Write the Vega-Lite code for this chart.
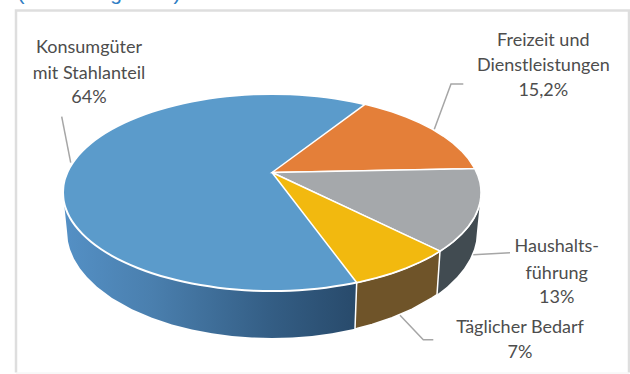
{
  "$schema": "https://vega.github.io/schema/vega-lite/v6.json",
  "width": 630,
  "height": 374,
  "padding": 0,
  "autosize": {"type": "none"},
  "background": "#ffffff",
  "view": {"stroke": null},
  "datasets": {
    "frame": [
      {"u": -256, "v": -200, "seq": 1},
      {"u": -256, "v": 162, "seq": 2},
      {"u": 357, "v": 162, "seq": 3},
      {"u": 357, "v": -200, "seq": 4}
    ],
    "frameBase": [
      {"u": -256, "v": -200.5, "seq": 1},
      {"u": 357, "v": -200.5, "seq": 2}
    ],
    "wallBlue": [
      {"u": -208, "v": -30, "v2": -30},
      {"u": -205, "v": -25, "v2": -58.5},
      {"u": -204, "v": -20, "v2": -69.06},
      {"u": -202, "v": -20, "v2": -76.73},
      {"u": -198, "v": -20, "v2": -86.22},
      {"u": -192, "v": -20, "v2": -95.99},
      {"u": -185, "v": -20, "v2": -104.6},
      {"u": -175, "v": -20, "v2": -114.24},
      {"u": -160, "v": -20, "v2": -125.4},
      {"u": -140, "v": -20, "v2": -136.66},
      {"u": -120, "v": -20, "v2": -145.26},
      {"u": -100, "v": -20, "v2": -151.91},
      {"u": -80, "v": -20, "v2": -157.02},
      {"u": -60, "v": -20, "v2": -160.81},
      {"u": -40, "v": -20, "v2": -163.45},
      {"u": -20, "v": -20, "v2": -164.99},
      {"u": 0, "v": -20, "v2": -165.5},
      {"u": 20, "v": -20, "v2": -164.99},
      {"u": 40, "v": -20, "v2": -163.45},
      {"u": 60, "v": -20, "v2": -160.81},
      {"u": 83, "v": -20, "v2": -156.34},
      {"u": 84.7, "v": -110.05, "v2": -110.05}
    ],
    "wallGray": [
      {"u": 165, "v": -122, "v2": -122},
      {"u": 168, "v": -78.6, "v2": -119.82},
      {"u": 175, "v": -70, "v2": -114.24},
      {"u": 185, "v": -60, "v2": -104.6},
      {"u": 192, "v": -50, "v2": -95.99},
      {"u": 198, "v": -40, "v2": -86.22},
      {"u": 202, "v": -35, "v2": -76.73},
      {"u": 204, "v": -30, "v2": -69.06},
      {"u": 205, "v": -28, "v2": -58.5},
      {"u": 208, "v": -29.5, "v2": -29.5}
    ],
    "wallYellow": [
      {"u": 83, "v": -156.34, "v2": -156.34},
      {"u": 84.7, "v": -110.05, "v2": -155.94},
      {"u": 100, "v": -100, "v2": -151.91},
      {"u": 120, "v": -95, "v2": -145.26},
      {"u": 140, "v": -85, "v2": -136.66},
      {"u": 160, "v": -75, "v2": -125.4},
      {"u": 165, "v": -75, "v2": -122},
      {"u": 168, "v": -78.6, "v2": -78.6}
    ],
    "topDisc": [
      {"u": -209, "v": -20, "v2": -20},
      {"u": -208.7, "v": -14.84, "v2": -25.16},
      {"u": -207.9, "v": -9.7, "v2": -30.3},
      {"u": -205.8, "v": -2.9, "v2": -37.1},
      {"u": -201.9, "v": 5.49, "v2": -45.49},
      {"u": -196.4, "v": 13.69, "v2": -53.69},
      {"u": -189.4, "v": 21.63, "v2": -61.63},
      {"u": -181, "v": 29.25, "v2": -69.25},
      {"u": -171.2, "v": 36.5, "v2": -76.5},
      {"u": -160.1, "v": 43.31, "v2": -83.31},
      {"u": -147.8, "v": 49.65, "v2": -89.65},
      {"u": -134.3, "v": 55.46, "v2": -95.46},
      {"u": -119.9, "v": 60.69, "v2": -100.69},
      {"u": -104.5, "v": 65.3, "v2": -105.3},
      {"u": -88.3, "v": 69.27, "v2": -109.27},
      {"u": -71.5, "v": 72.56, "v2": -112.56},
      {"u": -54.1, "v": 75.14, "v2": -115.14},
      {"u": -36.3, "v": 77, "v2": -117},
      {"u": -18.2, "v": 78.13, "v2": -118.13},
      {"u": 0, "v": 78.5, "v2": -118.5},
      {"u": 18.2, "v": 78.13, "v2": -118.13},
      {"u": 36.3, "v": 77, "v2": -117},
      {"u": 54.1, "v": 75.14, "v2": -115.14},
      {"u": 71.5, "v": 72.56, "v2": -112.56},
      {"u": 88.3, "v": 69.27, "v2": -109.27},
      {"u": 104.5, "v": 65.3, "v2": -105.3},
      {"u": 119.9, "v": 60.69, "v2": -100.69},
      {"u": 134.3, "v": 55.46, "v2": -95.46},
      {"u": 147.8, "v": 49.65, "v2": -89.65},
      {"u": 160.1, "v": 43.31, "v2": -83.31},
      {"u": 171.2, "v": 36.5, "v2": -76.5},
      {"u": 181, "v": 29.25, "v2": -69.25},
      {"u": 189.4, "v": 21.63, "v2": -61.63},
      {"u": 196.4, "v": 13.69, "v2": -53.69},
      {"u": 201.9, "v": 5.49, "v2": -45.49},
      {"u": 205.8, "v": -2.9, "v2": -37.1},
      {"u": 207.9, "v": -9.7, "v2": -30.3},
      {"u": 208.7, "v": -14.84, "v2": -25.16},
      {"u": 209, "v": -20, "v2": -20}
    ],
    "sliceOrange": [
      {"u": 0, "v": 0, "v2": 0},
      {"u": 93, "v": 68.2, "v2": 1.76},
      {"u": 104.5, "v": 65.3, "v2": 1.97},
      {"u": 119.9, "v": 60.69, "v2": 2.26},
      {"u": 134.3, "v": 55.46, "v2": 2.54},
      {"u": 147.8, "v": 49.65, "v2": 2.79},
      {"u": 160.1, "v": 43.31, "v2": 3.02},
      {"u": 171.2, "v": 36.5, "v2": 3.23},
      {"u": 181, "v": 29.25, "v2": 3.42},
      {"u": 189.4, "v": 21.63, "v2": 3.58},
      {"u": 196.4, "v": 13.69, "v2": 3.71},
      {"u": 202.8, "v": 3.83, "v2": 3.83}
    ],
    "sliceGray": [
      {"u": 0, "v": 0, "v2": 0},
      {"u": 168, "v": 3.17, "v2": -78.6},
      {"u": 171.2, "v": 3.23, "v2": -76.5},
      {"u": 181, "v": 3.42, "v2": -69.25},
      {"u": 189.4, "v": 3.58, "v2": -61.63},
      {"u": 196.4, "v": 3.71, "v2": -53.69},
      {"u": 201.9, "v": 3.81, "v2": -45.49},
      {"u": 202.8, "v": 3.83, "v2": -43.83},
      {"u": 205.8, "v": -2.9, "v2": -37.1},
      {"u": 207.9, "v": -9.7, "v2": -30.3},
      {"u": 208.7, "v": -14.84, "v2": -25.16},
      {"u": 209, "v": -20, "v2": -20}
    ],
    "sliceYellow": [
      {"u": 0, "v": 0, "v2": 0},
      {"u": 84.7, "v": -39.63, "v2": -110.05},
      {"u": 88.3, "v": -41.32, "v2": -109.27},
      {"u": 104.5, "v": -48.9, "v2": -105.3},
      {"u": 119.9, "v": -56.1, "v2": -100.69},
      {"u": 134.3, "v": -62.84, "v2": -95.46},
      {"u": 147.8, "v": -69.16, "v2": -89.65},
      {"u": 160.1, "v": -74.91, "v2": -83.31},
      {"u": 168, "v": -78.6, "v2": -78.6}
    ],
    "leaders": [
      {"slice": "Konsumgüter", "u": -210.3, "v": 55.8, "seq": 1},
      {"slice": "Konsumgüter", "u": -201.3, "v": 9.8, "seq": 2},
      {"slice": "Freizeit", "u": 191.3, "v": 88.5, "seq": 1},
      {"slice": "Freizeit", "u": 179, "v": 88.5, "seq": 2},
      {"slice": "Freizeit", "u": 162.3, "v": 43.2, "seq": 3},
      {"slice": "Haushalt", "u": 238, "v": -80.2, "seq": 1},
      {"slice": "Haushalt", "u": 201.3, "v": -82.2, "seq": 2},
      {"slice": "Täglich", "u": 128, "v": -142.8, "seq": 1},
      {"slice": "Täglich", "u": 151.3, "v": -167.2, "seq": 2},
      {"slice": "Täglich", "u": 161.3, "v": -167.2, "seq": 3}
    ],
    "labels": [
      {"line": "Konsumgüter", "u": -183, "v": 119.5},
      {"line": "mit Stahlanteil", "u": -183, "v": 93.5},
      {"line": "64%", "u": -183, "v": 69.5},
      {"line": "Freizeit und", "u": 271.3, "v": 126.5},
      {"line": "Dienstleistungen", "u": 271.3, "v": 101.5},
      {"line": "15,2%", "u": 271.3, "v": 76.5},
      {"line": "Haushalts-", "u": 284.7, "v": -79.5},
      {"line": "führung", "u": 284.7, "v": -106.2},
      {"line": "13%", "u": 284.7, "v": -130.2},
      {"line": "Täglicher Bedarf", "u": 248, "v": -160.2},
      {"line": "7%", "u": 248, "v": -185.2}
    ],
    "headingTail": [
      {"line": "(", "u": -251, "v": 172.5},
      {"line": "g", "u": -156, "v": 172.5},
      {"line": ")", "u": -95, "v": 172.5}
    ]
  },
  "encoding": {
    "x": {"field": "u", "type": "quantitative", "axis": null, "scale": {"domain": [-272, 358], "nice": false, "zero": false}},
    "y": {"field": "v", "type": "quantitative", "axis": null, "scale": {"domain": [-201.5, 172.5], "nice": false, "zero": false}}
  },
  "layer": [
    {
      "data": {"name": "frame"},
      "mark": {"type": "line", "color": "#dedede", "strokeWidth": 2.5, "interpolate": "linear"},
      "encoding": {"order": {"field": "seq", "type": "ordinal"}}
    },
    {
      "data": {"name": "frameBase"},
      "mark": {"type": "line", "color": "#f2f2f2", "strokeWidth": 1},
      "encoding": {"order": {"field": "seq", "type": "ordinal"}}
    },
    {
      "data": {"name": "wallBlue"},
      "mark": {
        "type": "area",
        "orient": "vertical",
        "interpolate": "linear",
        "color": {
          "gradient": "linear", "x1": 0, "x2": 1, "y1": 0, "y2": 0,
          "stops": [
            {"offset": 0, "color": "#5490c5"},
            {"offset": 0.3, "color": "#4a7fae"},
            {"offset": 0.7, "color": "#345e85"},
            {"offset": 1, "color": "#284a6b"}
          ]
        }
      },
      "encoding": {"y2": {"field": "v2"}}
    },
    {
      "data": {"name": "wallGray"},
      "mark": {"type": "area", "orient": "vertical", "interpolate": "linear", "color": "#414b51"},
      "encoding": {"y2": {"field": "v2"}}
    },
    {
      "data": {"name": "wallYellow"},
      "mark": {"type": "area", "orient": "vertical", "interpolate": "linear", "color": "#6f5429", "stroke": "#ffffff", "strokeWidth": 1.5},
      "encoding": {"y2": {"field": "v2"}}
    },
    {
      "data": {"name": "topDisc"},
      "mark": {"type": "area", "orient": "vertical", "interpolate": "monotone", "color": "#5b9bcb", "stroke": "#ffffff", "strokeWidth": 2},
      "encoding": {"y2": {"field": "v2"}}
    },
    {
      "data": {"name": "sliceOrange"},
      "mark": {"type": "area", "orient": "vertical", "interpolate": "linear", "color": "#e47f39", "stroke": "#ffffff", "strokeWidth": 1.5},
      "encoding": {"y2": {"field": "v2"}}
    },
    {
      "data": {"name": "sliceGray"},
      "mark": {"type": "area", "orient": "vertical", "interpolate": "linear", "color": "#a5a8ab", "stroke": "#ffffff", "strokeWidth": 1.5},
      "encoding": {"y2": {"field": "v2"}}
    },
    {
      "data": {"name": "sliceYellow"},
      "mark": {"type": "area", "orient": "vertical", "interpolate": "linear", "color": "#f2b90f", "stroke": "#ffffff", "strokeWidth": 1.5},
      "encoding": {"y2": {"field": "v2"}}
    },
    {
      "data": {"name": "leaders"},
      "mark": {"type": "line", "color": "#a6a6a6", "strokeWidth": 1.5, "interpolate": "linear"},
      "encoding": {
        "detail": {"field": "slice"},
        "order": {"field": "seq", "type": "ordinal"}
      }
    },
    {
      "data": {"name": "labels"},
      "mark": {"type": "text", "align": "center", "baseline": "alphabetic", "font": "Lato", "fontSize": 18, "color": "#4d4d4d"},
      "encoding": {"text": {"field": "line", "type": "nominal"}}
    },
    {
      "data": {"name": "headingTail"},
      "mark": {"type": "text", "align": "center", "baseline": "alphabetic", "font": "Liberation Sans", "fontSize": 21, "color": "#2f7ec4"},
      "encoding": {"text": {"field": "line", "type": "nominal"}}
    }
  ]
}
